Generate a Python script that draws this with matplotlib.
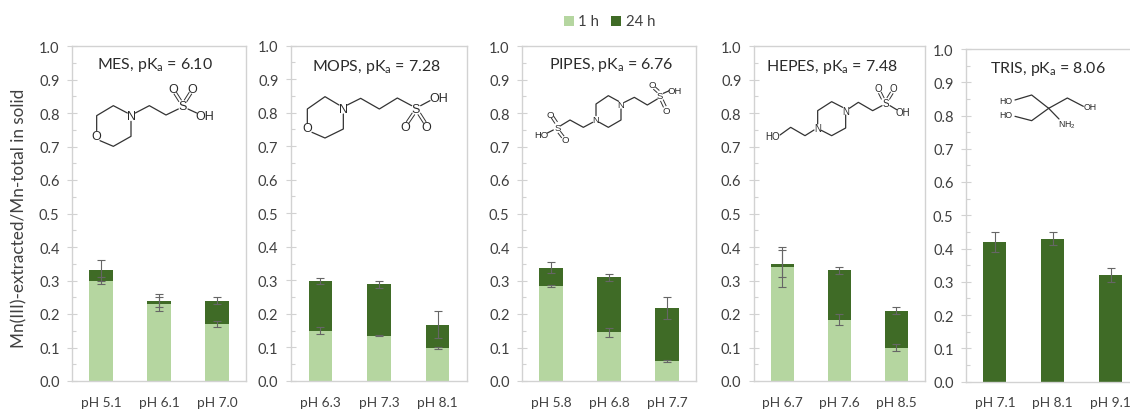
import matplotlib
matplotlib.use("Agg")
import matplotlib.pyplot as plt
from matplotlib.patches import Rectangle
from matplotlib.ticker import MultipleLocator

plt.rcParams['font.family'] = ['Lato', 'DejaVu Sans']
plt.rcParams['mathtext.default'] = 'regular'

W, H = 1130, 410
LIGHT = '#b5d6a0'
DARK = '#3f6b26'
GRID = '#d2d2d2'
TXT = '#404040'

# ---------- data ----------
buffers = ['MES', 'MOPS', 'PIPES', 'HEPES', 'TRIS']
pka = ['6.10', '7.28', '6.76', '7.48', '8.06']
mes_ph = ['pH 5.1', 'pH 6.1', 'pH 7.0']
mops_ph = ['pH 6.3', 'pH 7.3', 'pH 8.1']
pipes_ph = ['pH 5.8', 'pH 6.8', 'pH 7.7']
hepes_ph = ['pH 6.7', 'pH 7.6', 'pH 8.5']
tris_ph = ['pH 7.1', 'pH 8.1', 'pH 9.1']

mes_1h = [0.30, 0.23, 0.17]
mops_1h = [0.15, 0.135, 0.097]
pipes_1h = [0.284, 0.145, 0.06]
hepes_1h = [0.34, 0.183, 0.10]
tris_1h = [0.0, 0.0, 0.0]

mes_24h = [0.33, 0.24, 0.24]
mops_24h = [0.298, 0.288, 0.168]
pipes_24h = [0.338, 0.309, 0.218]
hepes_24h = [0.35, 0.33, 0.21]
tris_24h = [0.42, 0.43, 0.32]

mes_err1 = [0.01, 0.02, 0.01]
mops_err1 = [0.01, 0.002, 0.003]
pipes_err1 = [0.003, 0.013, 0.003]
hepes_err1 = [0.06, 0.016, 0.01]
tris_err1 = [0.0, 0.0, 0.0]

mes_err24 = [0.03, 0.02, 0.01]
mops_err24 = [0.01, 0.01, 0.04]
pipes_err24 = [0.017, 0.009, 0.032]
hepes_err24 = [0.04, 0.01, 0.01]
tris_err24 = [0.03, 0.02, 0.02]

phs = [mes_ph, mops_ph, pipes_ph, hepes_ph, tris_ph]
v1 = [mes_1h, mops_1h, pipes_1h, hepes_1h, tris_1h]
v24 = [mes_24h, mops_24h, pipes_24h, hepes_24h, tris_24h]
e1 = [mes_err1, mops_err1, pipes_err1, hepes_err1, tris_err1]
e24 = [mes_err24, mops_err24, pipes_err24, hepes_err24, tris_err24]

# ---------- layout (pixels: left, right, top, bottom) ----------
boxes = [(72, 246, 47, 382), (291, 467, 46.5, 382), (522, 696, 47, 382),
         (754, 925, 47, 382), (966, 1139.5, 50, 382.5)]
title_xy = [(155, 65.5), (376, 67.5), (611, 65.5), (832, 67.5), (1048, 68.5)]

fig = plt.figure(figsize=(W / 100, H / 100), dpi=100)

for i, (l, r, t, b) in enumerate(boxes):
    ax = fig.add_axes([l / W, 1 - b / H, (r - l) / W, (b - t) / H])
    x = range(3)
    ax.bar(x, v1[i], 0.4, color=LIGHT, zorder=2)
    inc = [a - c for a, c in zip(v24[i], v1[i])]
    ax.bar(x, inc, 0.4, bottom=v1[i], color=DARK, zorder=2)
    if i < 4:
        ax.errorbar(x, v1[i], yerr=e1[i], fmt='none', ecolor='#666666',
                    elinewidth=0.8, capsize=2.6, capthick=0.8, zorder=3)
    ax.errorbar(x, v24[i], yerr=e24[i], fmt='none', ecolor='#666666',
                elinewidth=0.8, capsize=2.6, capthick=0.8, zorder=3)
    ax.set_xlim(-0.5, 2.5)
    ax.set_ylim(0, 1)
    ax.set_xticks(list(x))
    ax.set_xticklabels(phs[i])
    ax.yaxis.set_major_locator(MultipleLocator(0.1))
    ax.yaxis.set_minor_locator(MultipleLocator(0.05))
    ax.yaxis.set_major_formatter('{x:.1f}')
    ax.tick_params(axis='y', which='major', direction='inout', length=7,
                   width=0.8, color=GRID, labelsize=10.5, labelcolor=TXT, pad=5.5)
    ax.tick_params(axis='y', which='minor', direction='in', length=3,
                   width=0.8, color=GRID)
    ax.tick_params(axis='x', length=0, labelsize=9.8, labelcolor=TXT, pad=10.5)
    for s in ax.spines.values():
        s.set_color(GRID)
        s.set_linewidth(1.0)
    ax.spines['right'].set_visible(i < 4)

# overlay in figure pixels for titles, legend and structural formulae
ov = fig.add_axes([0, 0, 1, 1], zorder=10)
ov.set_xlim(0, W)
ov.set_ylim(H, 0)
ov.axis('off')

for name, p, (tx, ty) in zip(buffers, pka, title_xy):
    ov.text(tx, ty, f'{name}, pK$_a$ = {p}', ha='center', va='center',
            fontsize=11.4, color='#2b2b2b')

ov.text(19, 218, 'Mn(III)-extracted/Mn-total in solid', rotation=90,
        ha='center', va='center', fontsize=12.3, color=TXT)

ov.add_patch(Rectangle((564, 17), 10, 10, color=LIGHT, lw=0))
ov.text(578, 22, '1 h', va='center', ha='left', fontsize=10.8, color=TXT)
ov.add_patch(Rectangle((611, 17), 10, 10, color=DARK, lw=0))
ov.text(626, 22, '24 h', va='center', ha='left', fontsize=10.8, color=TXT)

SANS = 'Liberation Sans'
def molecule(ox, oy, lines, doubles, labels, fs):
    def P(pts):
        return [ox + a / 3 for a, _ in pts], [oy + c / 3 for _, c in pts]
    for pl in lines:
        xs, ys = P(pl)
        ov.plot(xs, ys, color='#333333', lw=0.9, solid_capstyle='round')
    for (x0, y0), (x1, y1) in doubles:
        dx, dy = x1 - x0, y1 - y0
        n = (dx * dx + dy * dy) ** 0.5
        nx, ny = -dy / n * 4.5, dx / n * 4.5
        for sgn in (-1, 1):
            xs, ys = P([(x0 + sgn * nx, y0 + sgn * ny), (x1 + sgn * nx, y1 + sgn * ny)])
            ov.plot(xs, ys, color='#333333', lw=0.7)
    for (tx, ty, s) in labels:
        ov.text(ox + tx / 3, oy + ty / 3, s, ha='center', va='center',
                fontsize=fs, family=SANS, color='#2a2a2a')

# MES
molecule(50, 60,
         [[(140, 215), (140, 170), (190, 140), (232, 162)],
          [(150, 245), (190, 262), (243, 232), (243, 187)],
          [(256, 162), (298, 140), (348, 168), (385, 150)],
          [(414, 150), (440, 162)]],
         [((390, 125), (376, 103)), ((407, 125), (421, 103))],
         [(243, 172, 'N'), (140, 232, 'O'), (398, 142, 'S'), (369, 90, 'O'),
          (428, 90, 'O'), (465, 172, 'OH')], 9)
# MOPS
molecule(290, 60,
         [[(52, 193), (52, 150), (105, 113), (147, 138)],
          [(66, 220), (105, 237), (160, 210), (160, 165)],
          [(172, 138), (212, 118), (268, 150), (322, 117), (365, 140)],
          [(392, 140), (420, 125)]],
         [((370, 165), (353, 190)), ((388, 165), (404, 190))],
         [(160, 150, 'N'), (52, 208, 'O'), (378, 150, 'S'), (346, 203, 'O'),
          (408, 203, 'O'), (445, 117, 'OH')], 9)
# PIPES
molecule(520, 60,
         [[(296, 127), (265, 110), (228, 135), (228, 170)],
          [(238, 190), (265, 205), (303, 183), (303, 150)],
          [(313, 130), (343, 115), (382, 138), (412, 120)],
          [(430, 103), (448, 95)],
          [(218, 190), (190, 205), (150, 183), (122, 200)],
          [(100, 213), (82, 222)]],
         [((414, 97), (404, 88)), ((426, 125), (434, 142)),
          ((108, 190), (98, 175)), ((118, 220), (128, 233))],
         [(303, 137, 'N'), (228, 182, 'N'), (420, 110, 'S'), (397, 78, 'O'),
          (438, 155, 'O'), (465, 93, 'OH'), (112, 205, 'S'), (92, 165, 'O'),
          (135, 243, 'O'), (65, 228, 'HO')], 6.8)
# HEPES
molecule(750, 60,
         [[(278, 145), (245, 128), (203, 155), (203, 195)],
          [(214, 214), (245, 230), (287, 207), (287, 168)],
          [(298, 148), (325, 130), (368, 155), (396, 140)],
          [(420, 140), (440, 152)],
          [(192, 213), (165, 230), (122, 205), (90, 228)]],
         [((398, 118), (390, 102)), ((415, 118), (425, 102))],
         [(287, 155, 'N'), (203, 207, 'N'), (407, 133, 'S'), (385, 88, 'O'),
          (430, 88, 'O'), (458, 158, 'OH'), (68, 230, 'HO')], 7)
# TRIS
molecule(950, 30,
         [[(296, 238), (245, 198), (195, 213)],
          [(296, 238), (245, 275), (195, 262)],
          [(296, 238), (352, 207), (400, 232)],
          [(296, 238), (327, 270)]],
         [],
         [(167, 215, 'HO'), (167, 258, 'HO'), (422, 233, 'OH'),
          (350, 285, 'NH$_2$')], 6.3)

fig.savefig('out.png', dpi=100)
